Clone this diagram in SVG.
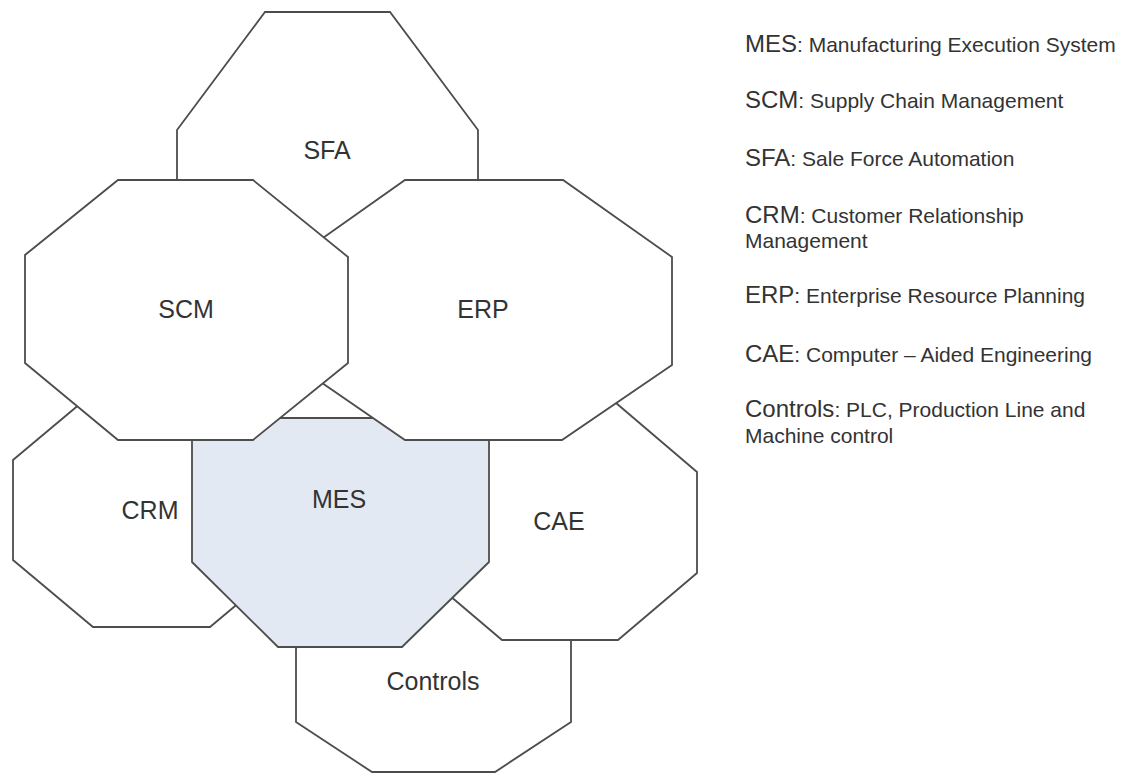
<svg xmlns="http://www.w3.org/2000/svg" width="1127" height="774" viewBox="0 0 1127 774">
  <style>
    .oct { fill: #ffffff; stroke: #4d4d4d; stroke-width: 1.8; stroke-linejoin: miter; }
    .core { fill: #e3e9f3; }
    .label { font-family: "Liberation Sans", Arial, sans-serif; font-size: 25px; fill: #333333; text-anchor: middle; }
    .legend { font-family: "Liberation Sans", Arial, sans-serif; font-size: 21px; fill: #333333; }
    .abbr { font-size: 24px; }
  </style>
  <rect width="1127" height="774" fill="#ffffff"/>

  <!-- back to front: each octagon partly hides the ones drawn before it -->
  <g id="node-sfa">
    <polygon class="oct" points="265,12 390,12 478,130 478,200 400,290 255,290 177,200 177,130"/>
    <text class="label" x="327" y="159">SFA</text>
  </g>
  <g id="node-crm">
    <polygon class="oct" points="93,393 210,393 290,460 290,560 210,627 93,627 13,560 13,460"/>
    <text class="label" x="150" y="519">CRM</text>
  </g>
  <g id="node-controls">
    <polygon class="oct" points="372,590 495,590 571,640 571,722 495,772 372,772 296,722 296,648"/>
    <text class="label" x="433" y="690">Controls</text>
  </g>
  <g id="node-cae">
    <polygon class="oct" points="502,403 616,403 697,472 697,573 618,640 502,640 423,573 423,472"/>
    <text class="label" x="559" y="530">CAE</text>
  </g>
  <g id="node-mes">
    <polygon class="oct core" points="240,418 440,418 489,430 489,562 402,647 278,647 192,562 192,430"/>
    <text class="label" x="339" y="508">MES</text>
  </g>
  <g id="node-erp">
    <polygon class="oct" points="405,180 563,180 672,257 672,365 562,440 405,440 296,365 296,257"/>
    <text class="label" x="483" y="318">ERP</text>
  </g>
  <g id="node-scm">
    <polygon class="oct" points="118,180 253,180 348,257 348,363 253,440 118,440 25,363 25,255"/>
    <text class="label" x="186" y="318">SCM</text>
  </g>

  <!-- glossary -->
  <g id="legend" class="legend">
    <text x="745" y="52"><tspan class="abbr">MES</tspan>: Manufacturing Execution System</text>
    <text x="745" y="108"><tspan class="abbr">SCM</tspan>: Supply Chain Management</text>
    <text x="745" y="166"><tspan class="abbr">SFA</tspan>: Sale Force Automation</text>
    <text x="745" y="223"><tspan class="abbr">CRM</tspan>: Customer Relationship</text>
    <text x="745" y="248">Management</text>
    <text x="745" y="303"><tspan class="abbr">ERP</tspan>: Enterprise Resource Planning</text>
    <text x="745" y="362"><tspan class="abbr">CAE</tspan>: Computer – Aided Engineering</text>
    <text x="745" y="417"><tspan class="abbr">Controls</tspan>: PLC, Production Line and</text>
    <text x="745" y="443">Machine control</text>
  </g>
</svg>
